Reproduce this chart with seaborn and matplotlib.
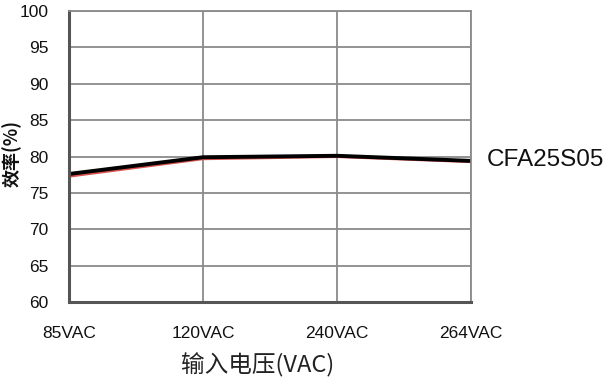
import matplotlib
matplotlib.use("Agg")
import matplotlib.pyplot as plt
import seaborn as sns
import pandas as pd

# Input voltage categories and efficiency readings (%)
voltages = ["85VAC", "120VAC", "240VAC", "264VAC"]
eff_main = [77.6, 79.9, 80.1, 79.4]
eff_alt = [77.3, 79.7, 80.0, 79.3]
series_name = "CFA25S05"
y_ticks = [60, 65, 70, 75, 80, 85, 90, 95, 100]

sns.set_theme(style="white")
plt.rcParams["font.family"] = ["Liberation Sans", "Noto Sans CJK SC", "DejaVu Sans"]

df = pd.DataFrame({
    "pos": range(len(voltages)),
    "main": eff_main,
    "alt": eff_alt,
})

fig = plt.figure(figsize=(6.12, 3.90), dpi=100)
ax = fig.add_axes([0.1127, 0.2256, 0.657, 0.7462])

sns.lineplot(data=df, x="pos", y="alt", ax=ax, color="#d9534f", lw=2.2)
sns.lineplot(data=df, x="pos", y="main", ax=ax, color="black", lw=2.8)

ax.set_xlim(0, len(voltages) - 1)
ax.set_ylim(60, 100)
ax.set_xticks(range(len(voltages)))
ax.set_xticklabels(voltages)
ax.set_yticks(y_ticks)
ax.tick_params(axis="both", length=0, labelsize=12.5, colors="#111111")
ax.tick_params(axis="x", pad=17)
ax.tick_params(axis="y", pad=15)

ax.grid(True, color="#8a8a8a", lw=1.3)
ax.set_axisbelow(True)
for side in ["top", "right"]:
    ax.spines[side].set_color("#8a8a8a")
    ax.spines[side].set_linewidth(1.3)
for side in ["left", "bottom"]:
    ax.spines[side].set_color("#555555")
    ax.spines[side].set_linewidth(2.2)

ax.set_xlabel("输入电压(VAC)", fontsize=17, color="#222222",
              family=["Noto Sans CJK SC", "DejaVu Sans"])
ax.xaxis.set_label_coords(0.47, -0.175)
ax.set_ylabel("效率(%)", fontsize=13, fontweight="bold", color="#111111",
              family=["Noto Sans CJK SC", "DejaVu Sans"])
ax.yaxis.set_label_coords(-0.117, 0.51)

ax.text(1.04, 79.5, series_name, transform=ax.get_yaxis_transform(),
        fontsize=17.5, color="#111111", va="center", ha="left")

fig.savefig("out.png", dpi=100)
